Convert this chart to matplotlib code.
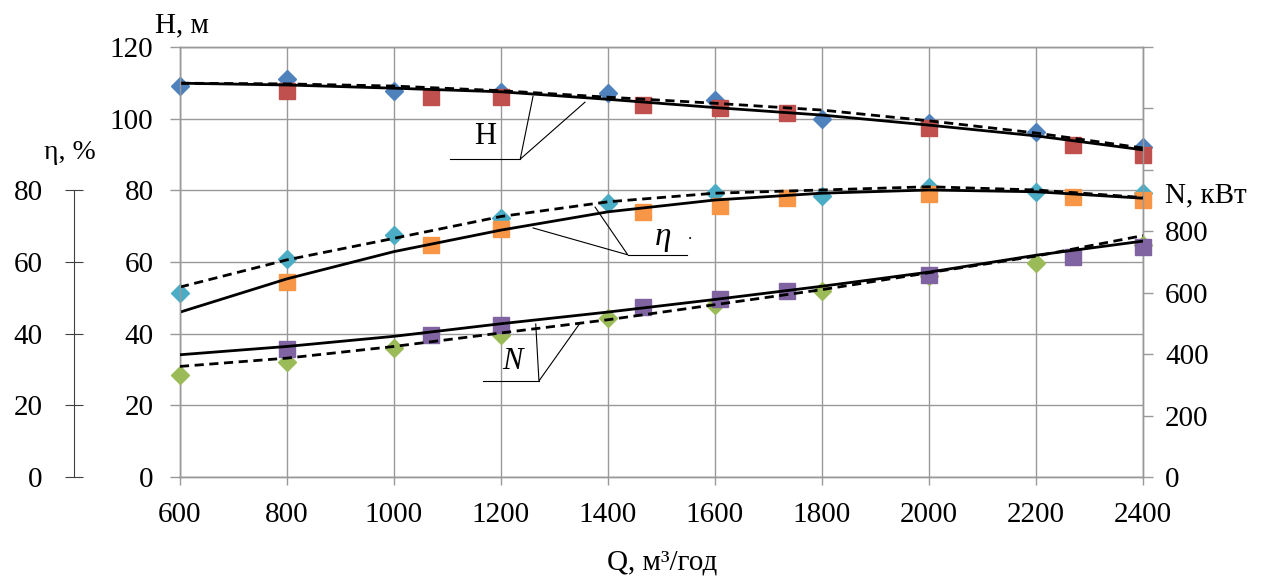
import numpy as np
import matplotlib
matplotlib.use("Agg")
import matplotlib.pyplot as plt
from matplotlib.ticker import FuncFormatter

# measured points (diamonds = catalogue, squares = test)
q_d = [600, 800, 1000, 1200, 1400, 1600, 1800, 2000, 2200, 2400]
q_s = [800, 1070, 1200, 1465, 1610, 1735, 2000, 2270, 2400]

h_d = [109.1, 111.0, 107.7, 107.4, 107.1, 105.2, 99.9, 98.9, 96.3, 92.1]
h_s = [107.8, 106.1, 106.0, 103.8, 103.0, 101.6, 97.4, 92.7, 89.9]

eta_d = [51.4, 60.8, 67.5, 72.4, 76.4, 79.3, 78.4, 81.0, 79.5, 79.3]
eta_s = [54.4, 64.8, 69.2, 74.0, 75.6, 77.9, 79.0, 78.1, 77.3]

n_d = [333, 375, 421, 463, 519, 561, 604, 655, 698, 755]
n_s = [418, 463, 496, 555, 581, 604, 659, 715, 750]

# trend curves at the grid lines
q_fit = [600, 800, 1000, 1200, 1400, 1600, 1800, 2000, 2200, 2400]
h_fit_s = [109.9, 109.4, 108.5, 107.5, 105.4, 103.1, 101.0, 98.2, 95.2, 91.3]
h_fit_d = [109.9, 109.7, 109.1, 107.8, 106.0, 104.3, 102.4, 99.4, 96.0, 91.8]
eta_fit_s = [46.0, 55.3, 62.9, 68.9, 74.0, 77.3, 79.2, 80.1, 79.6, 77.8]
eta_fit_d = [53.0, 60.6, 66.6, 72.7, 76.8, 79.2, 80.1, 81.0, 80.1, 78.0]
n_fit_s = [398, 425, 458, 499, 537, 578, 621, 667, 722, 768]
n_fit_d = [360, 387, 425, 469, 512, 561, 610, 665, 719, 786]

x_ticks = list(range(600, 2401, 200))
h_ticks = list(range(0, 121, 20))
eta_ticks = list(range(0, 81, 20))
n_ticks = list(range(0, 1401, 200))

gray = '#999999'
dash = (0, (3.3, 2))

plt.rcParams['font.family'] = ['Liberation Serif', 'DejaVu Serif']
plt.rcParams['font.size'] = 21

fig = plt.figure(figsize=(12.69, 5.76), dpi=100)
rect = [0.1418, 0.1719, 0.7589, 0.7465]
ax = fig.add_axes(rect)
ax.set_xlim(600, 2400)
ax.set_ylim(0, 120)
ax.set_xticks(x_ticks)
ax.set_yticks(h_ticks)
ax.grid(True, color=gray, lw=1.0)
ax.set_axisbelow(True)
for s in ax.spines.values():
    s.set_color(gray)
    s.set_linewidth(1.0)
ax.tick_params(axis='both', direction='out', color=gray, width=1.0)
ax.tick_params(axis='y', length=7, pad=12)
ax.tick_params(axis='x', length=6, pad=12)

# eta axis, same scale as H, drawn to the left
axe = fig.add_axes(rect, facecolor='none')
axe.set_ylim(0, 120)
axe.set_xticks([])
axe.set_yticks(eta_ticks)
for k in ['top', 'right', 'bottom']:
    axe.spines[k].set_visible(False)
axe.spines['left'].set_position(('axes', -0.110))
axe.spines['left'].set_bounds(0, 80)
axe.spines['left'].set_color('#404040')
axe.tick_params(axis='y', direction='inout', length=13, color='#404040', pad=16)

# N axis on the right
axn = ax.twinx()
axn.set_ylim(0, 1400)
axn.set_yticks(n_ticks)
axn.yaxis.set_major_formatter(FuncFormatter(lambda v, p: f"{int(v)}" if v <= 800 else ""))
for s in axn.spines.values():
    s.set_color(gray)
    s.set_linewidth(1.0)
axn.tick_params(axis='y', direction='out', length=7, color=gray, width=1.0, pad=9)

# markers
mk = dict(zorder=3, clip_on=False, ls='none')
ax.plot(q_d, h_d, 'D', color='#4F81BD', ms=9.5, **mk)
ax.plot(q_s, h_s, 's', color='#C0504D', ms=11, **mk)
ax.plot(q_d, eta_d, 'D', color='#4BACC6', ms=9.5, **mk)
ax.plot(q_s, eta_s, 's', color='#F79646', ms=11, **mk)
axn.plot(q_d, n_d, 'D', color='#9BBB59', ms=9.5, **mk)
axn.plot(q_s, n_s, 's', color='#8064A2', ms=11, **mk)

# trend lines
ax.plot(q_fit, h_fit_s, color='k', lw=2.0, zorder=4)
ax.plot(q_fit, h_fit_d, color='k', lw=2.0, ls=dash, zorder=4)
ax.plot(q_fit, eta_fit_s, color='k', lw=2.0, zorder=4)
ax.plot(q_fit, eta_fit_d, color='k', lw=2.0, ls=dash, zorder=4)
axn.plot(q_fit, n_fit_s, color='k', lw=2.0, zorder=4)
axn.plot(q_fit, n_fit_d, color='k', lw=2.0, ls=dash, zorder=4)

# leader lines and curve names
lk = dict(color='k', lw=0.8, zorder=5)
ax.plot([1105, 1236], [88.7, 88.7], **lk)
ax.plot([1260, 1236, 1357], [106.3, 88.7, 104.6], **lk)
ax.text(1170, 94.9, 'H', ha='center', va='center', fontsize=22)

ax.plot([1437, 1548], [62.0, 62.0], **lk)
ax.plot([1260, 1437, 1376], [69.5, 62.0, 75.3], **lk)
ax.text(1503, 67.0, 'η', ha='center', va='center', fontsize=24, style='italic')
ax.text(1553, 67.5, '.', ha='center', va='center', fontsize=12)

ax.plot([1166, 1271], [26.8, 26.8], **lk)
ax.plot([1265, 1271, 1348], [42.7, 26.8, 43.0], **lk)
ax.text(1221, 32.1, 'N', ha='center', va='center', fontsize=22, style='italic')

fig.text(0.5217, 0.0226, 'Q, м³/год', ha='center', va='center', fontsize=21)
fig.text(0.1434, 0.9566, 'H, м', ha='center', va='center', fontsize=21)
fig.text(0.0552, 0.7344, 'η, %', ha='center', va='center', fontsize=20)
fig.text(0.918, 0.6615, 'N, кВт', ha='left', va='center', fontsize=21)

fig.savefig('out.png', dpi=100)
